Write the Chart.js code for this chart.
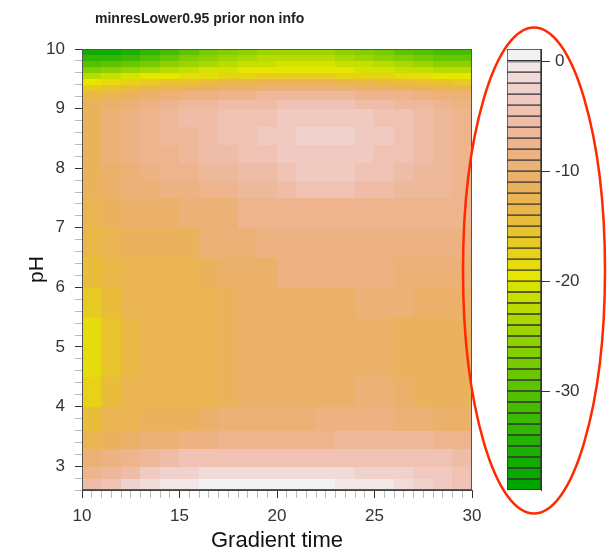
<!DOCTYPE html>
<html>
<head>
<meta charset="utf-8">
<script src="https://cdn.jsdelivr.net/npm/chart.js@4.4.0/dist/chart.umd.min.js"></script>
<style>
body { margin: 0; background: #fff; }
#wrap { position: relative; width: 612px; height: 554px; overflow: hidden; }
#main { position: absolute; left: 0; top: 0; }
#barra { position: absolute; left: 455px; top: 0; }
#titulo { position: absolute; left: 95px; top: 10px; font: bold 14px "Liberation Sans", Arial, sans-serif; color: #222; white-space: nowrap; }
</style>
</head>
<body>
<div id="wrap">
<canvas id="main" width="490" height="554"></canvas>
<canvas id="barra" width="157" height="554"></canvas>
<div id="titulo">minresLower0.95 prior non info</div>
</div>
<script>
// bordes de las celdas
var tiempoBordes = [10, 11, 12, 13, 14, 15, 16, 17, 18, 19, 20, 21, 22, 23, 24, 25, 26, 27, 28, 29, 30];
var phBordes = [2.6, 2.8, 3.0, 3.3, 3.6, 4.0, 4.5, 5.0, 5.5, 6.0, 6.5, 7.0, 7.5, 7.8, 8.1, 8.4, 8.7, 9.0, 9.15, 9.3, 9.4, 9.5, 9.6, 9.7, 9.8, 9.9, 10.0];

// valores, filas de pH bajo a pH alto
var valores = [
    [-6,-5,-3,-2,-1,-1,0,0,0,0,0,0,0,-1,-1,-1,-2,-3,-4,-5],
    [-8,-7,-6,-4,-3,-3,-2,-2,-2,-2,-2,-2,-2,-2,-3,-3,-3,-4,-4,-5],
    [-10,-9,-8,-7,-6,-5,-5,-5,-5,-5,-5,-5,-5,-5,-5,-5,-5,-5,-5,-6],
    [-13,-12,-11,-10,-10,-9,-9,-8,-8,-8,-8,-8,-8,-7,-7,-7,-7,-7,-8,-8],
    [-15,-13,-13,-12,-12,-12,-11,-10,-10,-10,-10,-10,-9,-9,-9,-9,-10,-10,-11,-11],
    [-18,-15,-13,-13,-13,-13,-13,-12,-11,-11,-11,-11,-11,-11,-10,-10,-11,-12,-12,-12],
    [-19,-16,-14,-13,-13,-13,-13,-12,-11,-11,-11,-11,-11,-11,-11,-11,-12,-12,-12,-12],
    [-19,-16,-14,-13,-13,-13,-13,-12,-11,-11,-11,-11,-11,-11,-11,-11,-12,-12,-12,-12],
    [-17,-15,-13,-13,-13,-13,-13,-12,-11,-11,-11,-11,-11,-11,-10,-10,-10,-11,-11,-11],
    [-15,-14,-13,-13,-13,-13,-12,-11,-11,-11,-9,-9,-9,-9,-9,-9,-10,-10,-10,-10],
    [-14,-13,-12,-12,-12,-12,-10,-10,-10,-9,-9,-9,-9,-9,-9,-9,-9,-9,-9,-9],
    [-13,-12,-11,-11,-11,-10,-10,-10,-8,-8,-8,-8,-8,-8,-8,-8,-8,-8,-8,-8],
    [-12,-11,-10,-10,-9,-9,-8,-8,-7,-7,-6,-5,-5,-5,-6,-6,-7,-7,-7,-8],
    [-12,-11,-10,-9,-8,-8,-7,-7,-6,-6,-5,-4,-4,-4,-5,-5,-6,-7,-7,-8],
    [-12,-10,-9,-8,-8,-7,-6,-6,-5,-5,-4,-4,-4,-4,-4,-5,-5,-6,-7,-8],
    [-12,-10,-9,-8,-7,-7,-6,-5,-5,-4,-4,-3,-3,-3,-4,-4,-5,-6,-7,-8],
    [-12,-10,-9,-8,-7,-6,-6,-5,-5,-5,-4,-4,-4,-4,-4,-5,-5,-6,-7,-8],
    [-12,-11,-10,-9,-8,-7,-7,-6,-6,-6,-5,-5,-5,-5,-6,-6,-7,-7,-8,-9],
    [-14,-13,-12,-11,-10,-9,-9,-8,-8,-7,-7,-7,-7,-7,-8,-8,-8,-9,-10,-10],
    [-17,-16,-15,-14,-13,-12,-12,-11,-11,-10,-10,-10,-10,-10,-11,-11,-12,-12,-13,-13],
    [-20,-19,-18,-17,-16,-16,-15,-14,-14,-13,-13,-13,-13,-14,-14,-15,-15,-16,-16,-17],
    [-23,-22,-21,-20,-20,-19,-19,-18,-18,-17,-17,-17,-17,-18,-18,-18,-19,-19,-20,-20],
    [-27,-26,-25,-24,-23,-22,-21,-21,-20,-20,-20,-20,-20,-20,-21,-21,-22,-22,-23,-23],
    [-31,-30,-29,-28,-26,-25,-24,-23,-22,-22,-21,-21,-21,-22,-22,-23,-24,-25,-26,-26],
    [-34,-34,-33,-31,-29,-27,-26,-25,-24,-23,-23,-23,-23,-24,-25,-26,-27,-28,-29,-29],
    [-37,-37,-36,-34,-32,-30,-28,-27,-26,-25,-25,-25,-25,-26,-27,-28,-30,-31,-32,-32]
];

// niveles de la barra de colores
var niveles = [-39,-38,-37,-36,-35,-34,-33,-32,-31,-30,-29,-28,-27,-26,-25,-24,-23,-22,-21,-20,
               -19,-18,-17,-16,-15,-14,-13,-12,-11,-10,-9,-8,-7,-6,-5,-4,-3,-2,-1,0,1.1];
var barraTicks = [0, -10, -20, -30];

var fuente = '"Liberation Sans", Arial, sans-serif';
Chart.defaults.font.family = fuente;
Chart.defaults.color = '#333';

function hsv(h, s, v){
    var i = Math.floor(h * 6), f = h * 6 - i;
    var p = v * (1 - s), q = v * (1 - s * f), t = v * (1 - s * (1 - f));
    var r, g, b;
    switch(i % 6){
        case 0: r = v; g = t; b = p; break;
        case 1: r = q; g = v; b = p; break;
        case 2: r = p; g = v; b = t; break;
        case 3: r = p; g = q; b = v; break;
        case 4: r = t; g = p; b = v; break;
        default: r = v; g = p; b = q;
    }
    return 'rgb(' + Math.round(r * 255) + ',' + Math.round(g * 255) + ',' + Math.round(b * 255) + ')';
}

// paleta tipo terrain.colors de R
function terreno(n){
    var k = Math.floor(n / 2);
    var out = [];
    for (var i = 0; i < k; i++) {
        var a = i / (k - 1);
        out.push(hsv(4/12 - 2/12 * a, 1, 0.65 + 0.25 * a));
    }
    for (var j = 1; j <= n - k; j++) {
        var t = j / (n - k);
        out.push(hsv(2/12 * (1 - t), 1 - t, 0.9 + 0.05 * t));
    }
    return out;
}

var colores = terreno(niveles.length - 1);

function colorDe(v){
    for (var i = 0; i < niveles.length - 1; i++) {
        if (v < niveles[i + 1]) return colores[i];
    }
    return colores[colores.length - 1];
}

var mapaCalor = {
    id: 'mapaCalor',
    beforeDatasetsDraw: function(chart){
        var ctx = chart.ctx;
        var xs = chart.scales.x, ys = chart.scales.y;
        ctx.save();
        for (var r = 0; r < valores.length; r++) {
            var ya = Math.floor(ys.getPixelForValue(phBordes[r + 1]));
            var yb = Math.ceil(ys.getPixelForValue(phBordes[r]));
            for (var c = 0; c < valores[r].length; c++) {
                var xa = Math.floor(xs.getPixelForValue(tiempoBordes[c]));
                var xb = Math.ceil(xs.getPixelForValue(tiempoBordes[c + 1]));
                ctx.fillStyle = colorDe(valores[r][c]);
                ctx.fillRect(xa, ya, xb - xa, yb - ya);
            }
        }
        ctx.restore();
    },
    afterDraw: function(chart){
        var a = chart.chartArea, ctx = chart.ctx;
        ctx.save();
        ctx.strokeStyle = '#555';
        ctx.lineWidth = 1;
        ctx.strokeRect(a.left + 0.5, a.top + 0.5, a.right - a.left - 1, a.bottom - a.top - 1);
        ctx.restore();
    }
};

function esEntero(v, paso){
    return Math.abs(v / paso - Math.round(v / paso)) < 1e-6;
}

new Chart(document.getElementById('main'), {
    type: 'scatter',
    data: { datasets: [{ data: [] }] },
    options: {
        responsive: false,
        animation: false,
        layout: { padding: { left: 0, right: 18, top: 49, bottom: 0 } },
        plugins: { legend: { display: false }, tooltip: { enabled: false } },
        scales: {
            x: {
                type: 'linear', min: 10, max: 30,
                afterFit: function(s){ s.height = 64; },
                ticks: {
                    stepSize: 0.5, autoSkip: false, maxRotation: 0, padding: 8,
                    font: { size: 17 }, color: '#333',
                    callback: function(v){ return esEntero(v, 5) ? String(v) : ''; }
                },
                grid: {
                    drawOnChartArea: false, tickLength: 8,
                    tickColor: function(c){ return esEntero(c.tick.value, 5) ? '#333' : '#bbb'; }
                },
                border: { color: '#444' },
                title: { display: true, text: 'Gradient time', font: { size: 22 }, color: '#111', padding: 0 }
            },
            y: {
                type: 'linear', min: 2.6, max: 10,
                afterFit: function(s){ s.width = 82; },
                ticks: {
                    stepSize: 0.2, autoSkip: false, padding: 10,
                    font: { size: 17 }, color: '#333',
                    callback: function(v){ return esEntero(v, 1) ? String(Math.round(v)) : ''; }
                },
                grid: {
                    drawOnChartArea: false, tickLength: 7,
                    tickColor: function(c){ return esEntero(c.tick.value, 1) ? '#333' : '#bbb'; }
                },
                border: { color: '#444' },
                title: { display: true, text: 'pH', font: { size: 21 }, color: '#111', padding: { top: 25, bottom: 0 } }
            }
        }
    },
    plugins: [mapaCalor]
});

var elipse = {
    id: 'elipse',
    afterDraw: function(chart){
        var a = chart.chartArea, ctx = chart.ctx;
        ctx.save();
        ctx.strokeStyle = '#ff2a00';
        ctx.lineWidth = 2.5;
        ctx.beginPath();
        ctx.ellipse((a.left + a.right) / 2 + 10, (a.top + a.bottom) / 2 + 1, 71, 243, 0, 0, Math.PI * 2);
        ctx.stroke();
        ctx.restore();
    }
};

var barraDatasets = [];
for (var i = 0; i < niveles.length - 1; i++) {
    barraDatasets.push({
        data: [[niveles[i], niveles[i + 1]]],
        backgroundColor: colores[i],
        borderColor: '#333',
        borderWidth: 1,
        borderSkipped: false,
        grouped: false,
        barPercentage: 1,
        categoryPercentage: 1
    });
}

new Chart(document.getElementById('barra'), {
    type: 'bar',
    data: { labels: [''], datasets: barraDatasets },
    options: {
        responsive: false,
        animation: false,
        layout: { padding: { left: 52, right: 1, top: 49, bottom: 64 } },
        plugins: { legend: { display: false }, tooltip: { enabled: false } },
        scales: {
            x: { display: false },
            y: {
                position: 'right', min: -39, max: 1.1,
                afterFit: function(s){ s.width = 70; },
                afterBuildTicks: function(s){ s.ticks = barraTicks.map(function(v){ return { value: v }; }); },
                ticks: { font: { size: 17 }, color: '#333', padding: 5 },
                grid: { drawOnChartArea: false, tickLength: 9, color: '#333' },
                border: { color: '#333' }
            }
        }
    },
    plugins: [elipse]
});
</script>
</body>
</html>
